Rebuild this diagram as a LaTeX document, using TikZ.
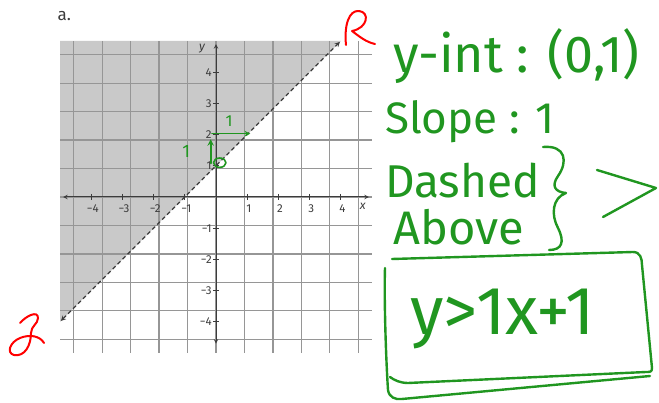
\documentclass[tikz,border=0pt]{standalone}
\usepackage{fontspec}
\setmainfont{Fira Sans}
\usepackage{tikz}
\usetikzlibrary{arrows}
\definecolor{pen}{RGB}{32,150,32}
\definecolor{regiongray}{RGB}{201,201,201}
\definecolor{gridgray}{RGB}{150,150,150}
\definecolor{axisgray}{RGB}{60,60,60}
\tikzset{
  note/.style={text=pen, anchor=base west, inner sep=0pt, font=\fontsize{45}{45}\selectfont},
  ink/.style={draw=pen, line width=2.4pt, line cap=round, line join=round},
  redink/.style={draw=red, line width=2pt, line cap=round, line join=round},
  ticklabel/.style={font=\fontsize{11.5}{11.5}\selectfont, text=axisgray, inner sep=1pt}
}

\begin{document}
\begin{tikzpicture}[x=1pt,y=-1pt,>=stealth]
  \useasboundingbox (0,0) rectangle (659,403);
  \node[anchor=base west, text=axisgray, font=\fontsize{17}{17}\selectfont] (part) at (54,21) {a.};

  % the graph, one square per unit
  \begin{scope}[shift={(216,197)}, x=31.2pt, y=31.2pt]
    \fill[regiongray] (-5,-4) -- (4,5) -- (-5,5) -- cycle;
    \draw[gridgray, line width=1.3pt] (-5,-5) grid (5,5);
    \draw[axisgray, line width=1pt, <->] (-4.9,0) -- (4.9,0);
    \draw[axisgray, line width=1pt, <->] (0,-4.7) -- (0,4.9);
    \foreach \k/\lab in {-4/−4,-3/−3,-2/−2,-1/−1,1/1,2/2,3/3,4/4} {
      \draw[axisgray, line width=0.8pt] (\k,0.1) -- (\k,-0.1);
      \draw[axisgray, line width=0.8pt] (-0.1,\k) -- (0.1,\k);
      \node[ticklabel] (xl\k) at (\k+0.05,-0.38) {\lab};
      \node[ticklabel, anchor=east] (yl\k) at (-0.1,\k) {\lab};
    }
    \node[ticklabel, font=\itshape\fontsize{12}{12}\selectfont] (ylab) at (-0.45,4.75) {y};
    \node[ticklabel, font=\itshape\fontsize{12}{12}\selectfont] (xlab) at (4.7,-0.3) {x};

    % boundary y = x + 1
    \draw[axisgray, line width=1.2pt, dash pattern=on 4pt off 3pt, <->] (-4.97,-3.97) -- (3.97,4.97);

    % rise and run
    \coordinate (p1) at (-0.17,1.08);
    \coordinate (p2) at (-0.17,1.85);
    \coordinate (q1) at (-0.13,2.03);
    \coordinate (q2) at (1.1,2.03);
    \draw[ink, line width=1.6pt] (0.12,1.1) ellipse (0.2 and 0.15);
    \draw[ink, line width=1.8pt, ->] (p1) -- (p2);
    \draw[ink, line width=1.6pt, ->] (q1) -- (q2);
    \node[note, anchor=center, font=\fontsize{18}{18}\selectfont] (rise) at (-0.95,1.45) {1};
    \node[note, anchor=center, font=\fontsize{16}{16}\selectfont] (run) at (0.42,2.42) {1};
  \end{scope}

  % red marks at the ends of the line
  \draw[redink] (346,45) .. controls (344,25) and (349,10) .. (359,11)
    .. controls (370,12) and (368,28) .. (352,31)
    .. controls (360,37) and (366,42) .. (375,44);
  \draw[redink] (20,323) .. controls (26,316) and (38,310) .. (38,318)
    .. controls (38,324) and (31,326) .. (31,333)
    .. controls (31,345) and (25,357) .. (14,355)
    .. controls (6,353) and (10,342) .. (20,338)
    .. controls (30,334) and (40,336) .. (44,343);

  % notes
  \node[note, font=\fontsize{52}{52}\selectfont] (yint) at (393,73) {y-int : (0,1)};
  \node[note, font=\fontsize{44}{44}\selectfont] (slope) at (385,134) {Slope : 1};
  \node[note, font=\fontsize{46}{46}\selectfont] (dashed) at (385,198) {Dashed};
  \node[note, font=\fontsize{47}{47}\selectfont] (above) at (393,245) {Above};
  \draw[ink] (543,147) .. controls (566,145) and (568,162) .. (558,176)
    .. controls (551,186) and (555,192) .. (566,193)
    .. controls (552,198) and (551,215) .. (558,228)
    .. controls (565,242) and (562,250) .. (549,250);
  \draw[ink] (597,170) -- (656,188) -- (603,217);

  % answer box
  \node[note, font=\fontsize{68}{68}\selectfont] (ineq) at (410,335) {y>1x+1};
  \draw[ink] (392,259) -- (633,252) .. controls (640,252) and (642,258) .. (642,265)
    -- (652,368) .. controls (652,372) and (650,372) .. (646,372) -- (408,383)
    .. controls (400,383) and (394,380) .. (390,377);
  \draw[ink] (385,268) .. controls (384,300) and (386,360) .. (388,390)
    .. controls (389,397) and (395,400) .. (402,399) -- (650,376);
\end{tikzpicture}
\end{document}
